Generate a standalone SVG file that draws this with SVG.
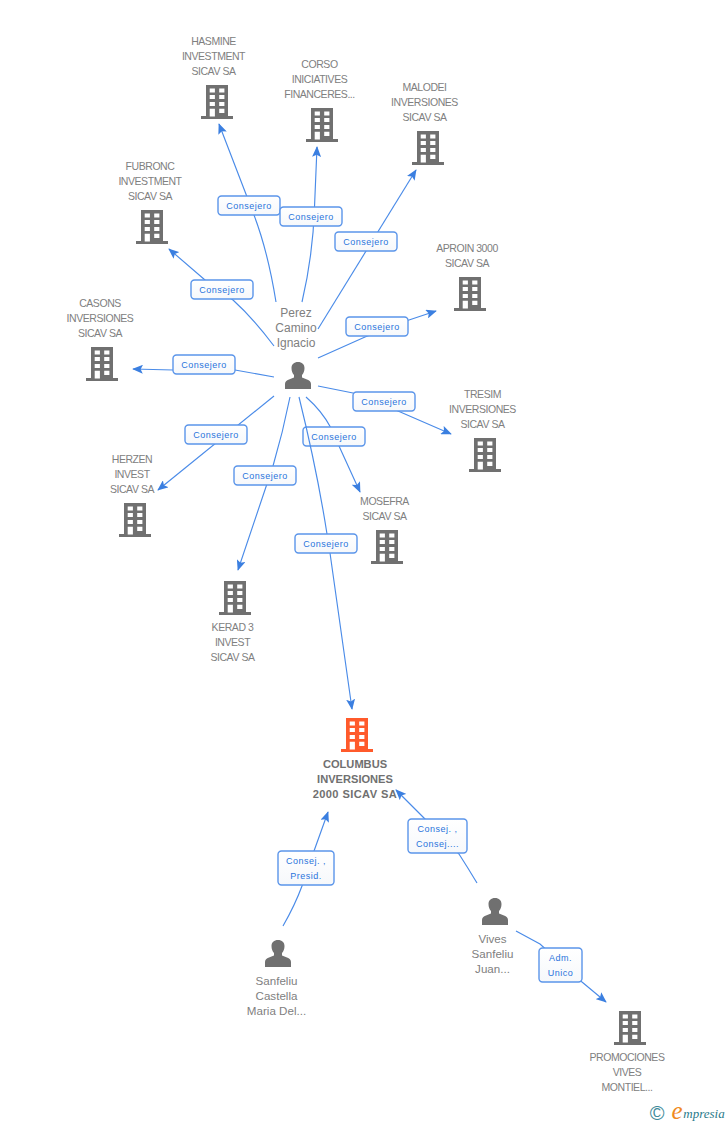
<svg xmlns="http://www.w3.org/2000/svg" xmlns:xlink="http://www.w3.org/1999/xlink" width="728" height="1125" viewBox="0 0 728 1125">
<style>
text{font-family:"Liberation Sans",Arial,sans-serif;font-size:10.5px;letter-spacing:-.45px;fill:#808080;text-anchor:middle}
.bold{font-weight:bold;fill:#707070;font-size:11.1px;letter-spacing:0}
.pn{font-size:12px;letter-spacing:0}
.ps{font-size:11.6px;letter-spacing:0}
.lb rect{fill:url(#lg);stroke:#5b95ea;stroke-width:1.4}
.lb text{fill:#2a74dc;font-size:9px;letter-spacing:.5px}
.c{fill:none;stroke:#4a8be8;stroke-width:1.15}
.ah{fill:#3b7fe0}
</style>
<defs>
<linearGradient id="lg" x1="0" y1="0" x2="0" y2="1"><stop offset="0" stop-color="#fff"/><stop offset="1" stop-color="#f6f8fb"/></linearGradient>
<marker id="a" viewBox="0 0 12 10" refX="11" refY="5" markerWidth="11" markerHeight="9" markerUnits="userSpaceOnUse" orient="auto"><path class="ah" d="M0 0L12 5L0 10L2.500 5Z"/></marker>
<g id="bw"><path fill="#fff" d="M-7.300 3.500h5.200v4h-5.200zM2.200 3.500h5.200v4h-5.200zM-7.300 10h5.200v4h-5.200zM2.200 10h5.200v4h-5.200zM-7.300 17h5.200v4h-5.200zM2.200 17h5.200v4h-5.200zM-7.300 23.700h5.200v7.800h-5.200zM2.200 23.700h5.200v4.300h-5.200z"/></g>
<g id="b"><path fill="#707070" d="M-11 0h22v31h5v3h-32v-3h5z"/><use xlink:href="#bw" href="#bw"/></g>
<g id="bo"><path fill="#ff5a2b" d="M-11 0h22v31h5v3h-32v-3h5z"/><use xlink:href="#bw" href="#bw"/></g>
<path id="p" fill="#707070" d="M-13.500 27v-5c0-2.500 1.500-3.500 4-4.500l5-2v-2.500c-1.500-1.500-2.500-4-2.500-7c0-3.500 2.500-6 6.500-6s6.500 2.500 6.500 6c0 3-1 5.500-2.500 7v2.500l5 2c2.500 1 4 2 4 4.500v5z"/>
</defs>
<g id="connectors">
<path class="c" d="M276 302Q268 252 254 215L219 124" marker-end="url(#a)"/>
<path class="c" d="M302 302Q313 255 314.500 207L317 147" marker-end="url(#a)"/>
<path class="c" d="M318 329L416 170" marker-end="url(#a)"/>
<path class="c" d="M274 346Q253 318 233 300L205 280L169 249" marker-end="url(#a)"/>
<path class="c" d="M318 358L365 337L409 320L436 311" marker-end="url(#a)"/>
<path class="c" d="M274 377L235 370Q205 368 173 370L133 369" marker-end="url(#a)"/>
<path class="c" d="M318 386L353 393L398 411L451 434" marker-end="url(#a)"/>
<path class="c" d="M274 396L158 490" marker-end="url(#a)"/>
<path class="c" d="M306 397Q322 411 331 428L339 446L360 492" marker-end="url(#a)"/>
<path class="c" d="M290 397Q283 432 273 466L238 570" marker-end="url(#a)"/>
<path class="c" d="M283 926Q295 905 302 886L314 851L328 812" marker-end="url(#a)"/>
<path class="c" d="M477 883Q468 868 459 854L424 818L396 790" marker-end="url(#a)"/>
<path class="c" d="M516 931L540 944L582 982L606 1002" marker-end="url(#a)"/>
</g>
<g id="label-mosefra" class="lb"><rect x="303" y="427" width="62" height="19" rx="3.500"/><text x="334" y="440">Consejero</text></g>
<g id="connector-columbus"><path class="c" d="M299 397Q317 470 327 534L330 553L352 709" marker-end="url(#a)"/></g>
<g id="n-hasmine"><use xlink:href="#b" href="#b" x="217" y="85"/><text x="213.500" y="45">HASMINE</text><text x="213.500" y="60">INVESTMENT</text><text x="213.500" y="75">SICAV SA</text></g>
<g id="n-corso"><use xlink:href="#b" href="#b" x="322" y="108"/><text x="319.500" y="68">CORSO</text><text x="319.500" y="83">INICIATIVES</text><text x="319.500" y="98">FINANCERES...</text></g>
<g id="n-malodei"><use xlink:href="#b" href="#b" x="428" y="131"/><text x="424.500" y="91">MALODEI</text><text x="424.500" y="106">INVERSIONES</text><text x="424.500" y="121">SICAV SA</text></g>
<g id="n-fubronc"><use xlink:href="#b" href="#b" x="152" y="210"/><text x="150" y="170">FUBRONC</text><text x="150" y="185">INVESTMENT</text><text x="150" y="200">SICAV SA</text></g>
<g id="n-aproin"><use xlink:href="#b" href="#b" x="470" y="277"/><text x="467" y="252">APROIN 3000</text><text x="467" y="267">SICAV SA</text></g>
<g id="n-casons"><use xlink:href="#b" href="#b" x="102" y="347"/><text x="100" y="307">CASONS</text><text x="100" y="322">INVERSIONES</text><text x="100" y="337">SICAV SA</text></g>
<g id="n-tresim"><use xlink:href="#b" href="#b" x="485" y="438"/><text x="482.500" y="398">TRESIM</text><text x="482.500" y="413">INVERSIONES</text><text x="482.500" y="428">SICAV SA</text></g>
<g id="n-herzen"><use xlink:href="#b" href="#b" x="135" y="503"/><text x="132" y="463">HERZEN</text><text x="132" y="478">INVEST</text><text x="132" y="493">SICAV SA</text></g>
<g id="n-mosefra"><use xlink:href="#b" href="#b" x="387" y="530"/><text x="384.500" y="505">MOSEFRA</text><text x="384.500" y="520">SICAV SA</text></g>
<g id="n-kerad"><use xlink:href="#b" href="#b" x="235" y="581"/><text x="232.500" y="631">KERAD 3</text><text x="232.500" y="646">INVEST</text><text x="232.500" y="661">SICAV SA</text></g>
<g id="n-columbus"><use xlink:href="#bo" href="#bo" x="357" y="718"/><text class="bold" x="355" y="768">COLUMBUS</text><text class="bold" x="355" y="783">INVERSIONES</text><text class="bold" x="354.700" y="798" textLength="84">2000 SICAV SA</text></g>
<g id="n-promociones"><use xlink:href="#b" href="#b" x="630" y="1011"/><text x="627" y="1061">PROMOCIONES</text><text x="627" y="1076">VIVES</text><text x="627" y="1091">MONTIEL...</text></g>
<g id="n-perez"><use xlink:href="#p" href="#p" x="298.500" y="362"/><text class="pn" x="296" y="317">Perez</text><text class="pn" x="296" y="332">Camino</text><text class="pn" x="296" y="347">Ignacio</text></g>
<g id="n-sanfeliu"><use xlink:href="#p" href="#p" x="278.500" y="940"/><text class="ps" x="276.500" y="985">Sanfeliu</text><text class="ps" x="276.500" y="1000">Castella</text><text class="ps" x="276.500" y="1015">Maria Del...</text></g>
<g id="n-vives"><use xlink:href="#p" href="#p" x="495.500" y="898"/><text class="ps" x="492.500" y="943">Vives</text><text class="ps" x="492.500" y="958">Sanfeliu</text><text class="ps" x="492.500" y="973">Juan...</text></g>
<g id="labels" class="lb">
<g><rect x="218" y="196" width="62" height="19" rx="3.500"/><text x="249" y="209">Consejero</text></g>
<g><rect x="280" y="207" width="62" height="19" rx="3.500"/><text x="311" y="220">Consejero</text></g>
<g><rect x="335" y="232" width="62" height="19" rx="3.500"/><text x="366" y="245">Consejero</text></g>
<g><rect x="191" y="280" width="62" height="19" rx="3.500"/><text x="222" y="293">Consejero</text></g>
<g><rect x="346" y="317" width="62" height="19" rx="3.500"/><text x="377" y="330">Consejero</text></g>
<g><rect x="173" y="355" width="62" height="19" rx="3.500"/><text x="204" y="368">Consejero</text></g>
<g><rect x="353" y="392" width="62" height="19" rx="3.500"/><text x="384" y="405">Consejero</text></g>
<g><rect x="185" y="425" width="62" height="19" rx="3.500"/><text x="216" y="438">Consejero</text></g>
<g><rect x="234" y="466" width="62" height="19" rx="3.500"/><text x="265" y="479">Consejero</text></g>
<g><rect x="295" y="534" width="62" height="19" rx="3.500"/><text x="326" y="547">Consejero</text></g>
<g><rect x="278" y="851" width="56" height="34" rx="3.500"/><text x="306" y="864">Consej. ,</text><text x="306" y="879">Presid.</text></g>
<g><rect x="408" y="819" width="59" height="34" rx="3.500"/><text x="437.500" y="832">Consej. ,</text><text x="437.500" y="847">Consej....</text></g>
<g><rect x="539" y="948" width="43" height="34" rx="3.500"/><text x="560.500" y="961">Adm.</text><text x="560.500" y="976">Unico</text></g>
</g>
<g id="logo"><text x="657" y="1120" style="font-size:20px;letter-spacing:0;fill:#3e8a9a">©</text><text x="677" y="1119" style="font-family:'Liberation Serif',serif;font-style:italic;font-size:25px;letter-spacing:0;fill:#f08a1e">e</text><text x="704" y="1118" style="font-family:'Liberation Serif',serif;font-style:italic;font-size:13px;letter-spacing:0;fill:#2a7a8a">mpresia</text></g>
</svg>
